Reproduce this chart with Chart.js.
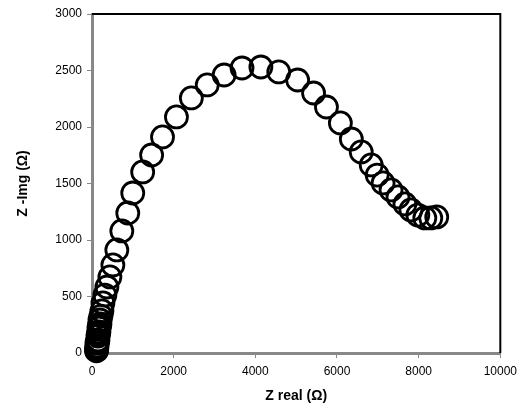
<!DOCTYPE html>
<html>
<head>
<meta charset="utf-8">
<script src="https://cdn.jsdelivr.net/npm/chart.js@4"></script>
<style>
  html, body { margin: 0; padding: 0; background: #fff; }
  #wrap { width: 523px; height: 409px; }
</style>
</head>
<body>
<div id="wrap"><canvas id="chart"></canvas></div>
<script>
/* ─── Data ──────────────────────────────────────── */
const zReal = [110, 114, 118, 122, 122, 134, 146, 146, 158, 170,
               170, 182, 195, 195, 219, 243,
               268, 316, 365, 438, 511, 608, 730, 876, 998, 1241,
               1460, 1727, 2068, 2433, 2822, 3236, 3674, 4136, 4574, 5036,
               5426, 5742, 6083, 6351, 6594, 6838, 6984, 7129, 7324, 7494,
               7664, 7810, 7980, 8151, 8297, 8443];
const zImg  = [20, 30, 45, 62, 88, 100, 115, 150, 168, 186,
               221, 240, 257, 292, 327, 372,
               443, 513, 584, 673, 779, 912, 1080, 1239, 1416, 1602,
               1752, 1912, 2089, 2257, 2372, 2460, 2522, 2531, 2487, 2416,
               2301, 2177, 2036, 1894, 1779, 1664, 1575, 1505, 1443, 1381,
               1319, 1266, 1221, 1195, 1195, 1204];
const xTicks = [0, 2000, 4000, 6000, 8000, 10000];
const yTicks = [0, 500, 1000, 1500, 2000, 2500, 3000];

/* ─── Defaults ───────────────────────────────── */
Chart.defaults.font.family = "'Liberation Sans', Arial, sans-serif";
Chart.defaults.font.size = 12;
Chart.defaults.color = '#000';

/* top + right black frame lines */
const framePlugin = {
  id: 'frame',
  afterDatasetsDraw(chart) {
    const { ctx, chartArea: a } = chart;
    ctx.save();
    ctx.strokeStyle = '#000';
    ctx.lineWidth = 2;
    ctx.beginPath();
    ctx.moveTo(a.left, a.top);
    ctx.lineTo(a.right, a.top);
    ctx.lineTo(a.right, a.bottom);
    ctx.stroke();
    ctx.restore();
  }
};

const points = zReal.map((x, i) => ({ x, y: zImg[i] }));

new Chart(document.getElementById('chart'), {
  type: 'scatter',
  data: {
    datasets: [{
      data: points,
      pointStyle: 'circle',
      pointRadius: 11,
      pointHoverRadius: 11,
      pointBorderWidth: 2.8,
      pointBorderColor: '#000',
      pointBackgroundColor: 'rgba(0,0,0,0)',
      showLine: false,
      clip: false
    }]
  },
  options: {
    responsive: true,
    maintainAspectRatio: false,
    animation: false,
    layout: { padding: { top: 14, right: 17, bottom: 0, left: 0 } },
    plugins: { legend: { display: false }, tooltip: { enabled: false } },
    scales: {
      x: {
        type: 'linear',
        min: 0, max: 10000,
        afterFit: a => { a.height = 56; },
        afterBuildTicks: a => { a.ticks = xTicks.map(v => ({ value: v })); },
        border: { display: true, color: '#888', width: 3 },
        grid: { display: true, drawOnChartArea: false, tickLength: 5, color: '#888', tickWidth: 1 },
        ticks: { padding: 6, callback: v => String(v), maxRotation: 0 },
        title: {
          display: true,
          text: 'Z real (Ω)',
          font: { size: 14, weight: 'bold' },
          padding: { top: 0, bottom: 4 }
        }
      },
      y: {
        type: 'linear',
        min: 0, max: 3000,
        afterFit: a => { a.width = 92; },
        afterBuildTicks: a => { a.ticks = yTicks.map(v => ({ value: v })); },
        border: { display: true, color: '#888', width: 3 },
        grid: { display: true, drawOnChartArea: false, tickLength: 5, color: '#888', tickWidth: 1 },
        ticks: { padding: 5, callback: v => String(v) },
        title: {
          display: true,
          text: 'Z -Img (Ω)',
          font: { size: 14, weight: 'bold' },
          padding: { top: 15, bottom: 0 }
        }
      }
    }
  },
  plugins: [framePlugin]
});
</script>
</body>
</html>
